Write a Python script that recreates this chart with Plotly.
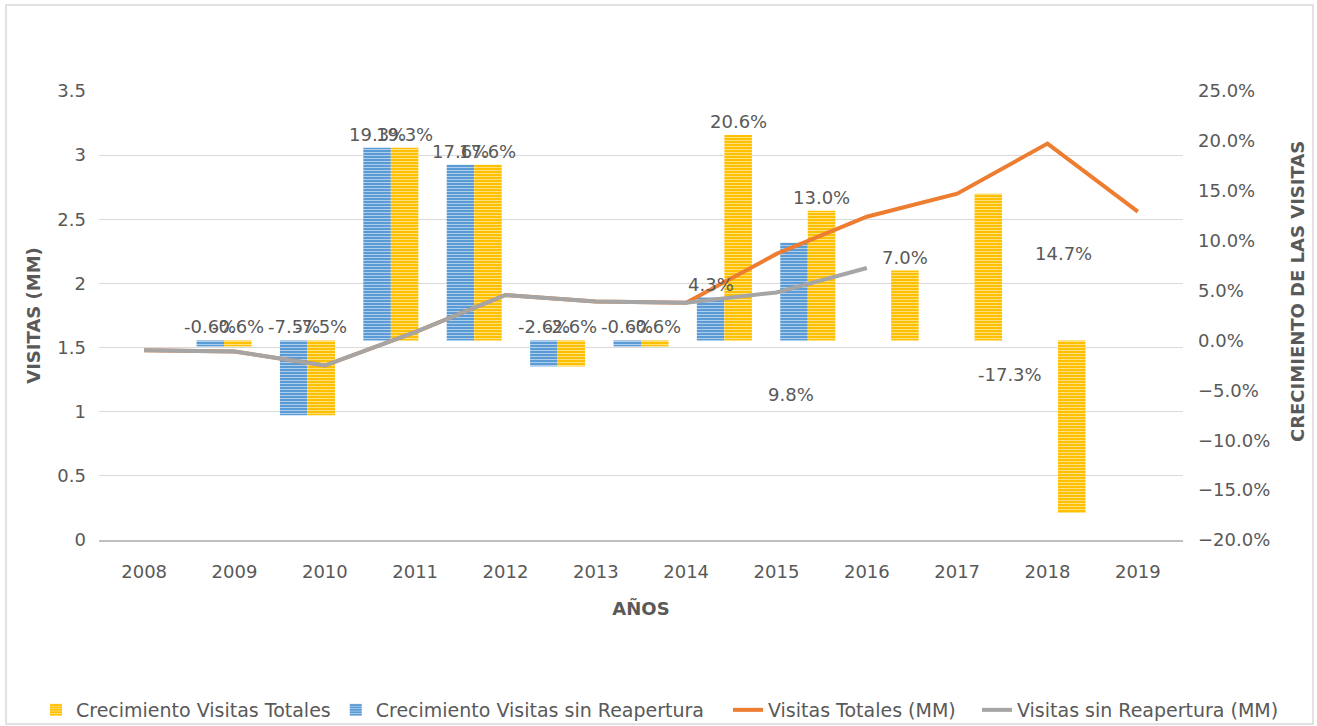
import plotly.graph_objects as go

# ---------------- data ----------------
years = [2008, 2009, 2010, 2011, 2012, 2013, 2014, 2015, 2016, 2017, 2018, 2019]
visitas_totales = [1.48, 1.47, 1.36, 1.62, 1.91, 1.86, 1.85, 2.23, 2.52, 2.70, 3.09, 2.56]
visitas_sin_reap = [1.48, 1.47, 1.36, 1.62, 1.91, 1.86, 1.85, 1.93, 2.12, None, None, None]

growth_years = [2009, 2010, 2011, 2012, 2013, 2014, 2015, 2016, 2017, 2018, 2019]
crec_totales = [-0.006, -0.075, 0.193, 0.176, -0.026, -0.006, 0.206, 0.130, 0.070, 0.147, -0.173]
crec_sin_reap = [-0.006, -0.075, 0.193, 0.176, -0.026, -0.006, 0.043, 0.098, None, None, None]

left_ticks = [0, 0.5, 1, 1.5, 2, 2.5, 3, 3.5]

# ---------------- style ----------------
FONT = "DejaVu Sans"
TXT = "#595959"
YELLOW = "#FFC000"
BLUE = "#5B9BD5"
ORANGE = "#ED7D31"
GRAY = "#A5A5A5"
GRID = "#D9D9D9"

W, H = 1317, 726
L, R, T, B = 99, 134, 91, 186
pw, ph = W - L - R, H - T - B

def px_x(p):
    return (p - L) / pw

def px_y(p):
    return (H - B - p) / ph

# bar slots on a hidden 13-slot axis (Excel secondary category axis)
bar_pos = [i + 1 for i in range(len(growth_years))]
HALF = 0.165  # half of bar width in slot units

def striped(color):
    return dict(color=color, line=dict(width=0),
                pattern=dict(shape="-", fgcolor="white", bgcolor=color, size=3, solidity=0.34))

fig = go.Figure()

fig.add_trace(go.Bar(
    x=bar_pos, y=crec_sin_reap, name="Crecimiento Visitas sin Reapertura",
    marker=striped(BLUE), xaxis="x", yaxis="y", legendrank=2, hoverinfo="skip", legend="legend",
))
fig.add_trace(go.Bar(
    x=bar_pos, y=crec_totales, name="Crecimiento Visitas Totales",
    marker=striped(YELLOW), xaxis="x", yaxis="y", legendrank=1, hoverinfo="skip", legend="legend",
))
fig.add_trace(go.Scatter(
    x=[str(y) for y in years], y=visitas_totales, name="Visitas Totales (MM)",
    mode="lines", line=dict(color=ORANGE, width=4), xaxis="x2", yaxis="y2", legendrank=3,
    legend="legend2",
))
fig.add_trace(go.Scatter(
    x=[str(y) for y in years], y=visitas_sin_reap, name="Visitas sin Reapertura (MM)",
    mode="lines", line=dict(color=GRAY, width=4), xaxis="x2", yaxis="y2", legendrank=4,
    legend="legend3",
))

# data labels (Excel-style, some were displaced in the original)
special = {  # (series, year): (xshift px, yshift px from baseline)
    ("blue", 2016): (-3, -54),
    ("yellow", 2018): (75, 87),
    ("yellow", 2019): (-62, -34),
}
LBL = dict(family=FONT, size=18, color=TXT)
annotations = []
for series, vals, off in (("blue", crec_sin_reap, -HALF), ("yellow", crec_totales, HALF)):
    for pos, yr, v in zip(bar_pos, growth_years, vals):
        if v is None:
            continue
        txt = f"{v*100:.1f}%"
        if (series, yr) in special:
            dx, dy = special[(series, yr)]
            annotations.append(dict(x=pos + off, y=0, xref="x", yref="y", text=txt,
                                    showarrow=False, xshift=dx, yshift=dy, yanchor="middle", font=LBL))
        else:
            annotations.append(dict(x=pos + off, y=max(v, 0), xref="x", yref="y", text=txt,
                                    showarrow=False, yanchor="bottom", yshift=1, font=LBL))

# right axis title (off-centre as in the original)
annotations.append(dict(x=px_x(1297), y=px_y(292), xref="paper", yref="paper",
                        text="<b>CRECIMIENTO DE LAS VISITAS</b>",
                        textangle=-90, showarrow=False, xanchor="center", yanchor="middle",
                        font=dict(family=FONT, size=18, color=TXT)))

LEG_FONT = dict(family=FONT, size=19, color=TXT)

def leg(xpx):
    return dict(orientation="h", x=px_x(xpx), xanchor="left", y=px_y(710), yanchor="middle",
                font=LEG_FONT, itemwidth=30, tracegroupgap=0, bgcolor="rgba(0,0,0,0)")

fig.update_layout(
    width=W, height=H,
    margin=dict(l=L, r=R, t=T, b=B, autoexpand=False),
    paper_bgcolor="white", plot_bgcolor="white",
    font=dict(family=FONT, size=18, color=TXT),
    barmode="group", bargap=0.34, bargroupgap=0,
    showlegend=True,
    legend=leg(36),
    legend2=leg(728),
    legend3=leg(977),
    xaxis=dict(range=[-0.5, 12.5], visible=False, fixedrange=True),
    yaxis=dict(range=[-0.2, 0.25], dtick=0.05, tick0=0, tickformat=".1%", side="right",
               showgrid=False, zeroline=False, showline=False, ticks="",
               ticklabelstandoff=14, tickfont=dict(family=FONT, size=18, color=TXT)),
    xaxis2=dict(type="category", overlaying="x", side="bottom", showgrid=False,
                range=[-0.5, len(years) - 0.5],
                showline=True, linecolor="#BFBFBF", linewidth=2, ticks="",
                ticklabelstandoff=14, tickfont=dict(family=FONT, size=18, color=TXT),
                title=dict(text="<b>AÑOS</b>", standoff=22, font=dict(family=FONT, size=18, color=TXT))),
    yaxis2=dict(range=[0, 3.5], tickvals=left_ticks, overlaying="y", side="left",
                showgrid=True, gridcolor=GRID, gridwidth=1, zeroline=False, showline=False,
                ticks="", ticklabelstandoff=12, tickfont=dict(family=FONT, size=18, color=TXT),
                title=dict(text="<b>VISITAS (MM)</b>", standoff=12, font=dict(family=FONT, size=18, color=TXT))),
    annotations=annotations,
    shapes=[dict(type="rect", xref="paper", yref="paper",
                 x0=px_x(6), x1=px_x(1313), y0=px_y(724), y1=px_y(5),
                 line=dict(color=GRID, width=1.5), fillcolor="rgba(0,0,0,0)", layer="below")],
)

fig.write_html("out.html", config={"displayModeBar": False},
               post_script="document.body.style.margin='0';document.body.style.overflow='hidden';")
